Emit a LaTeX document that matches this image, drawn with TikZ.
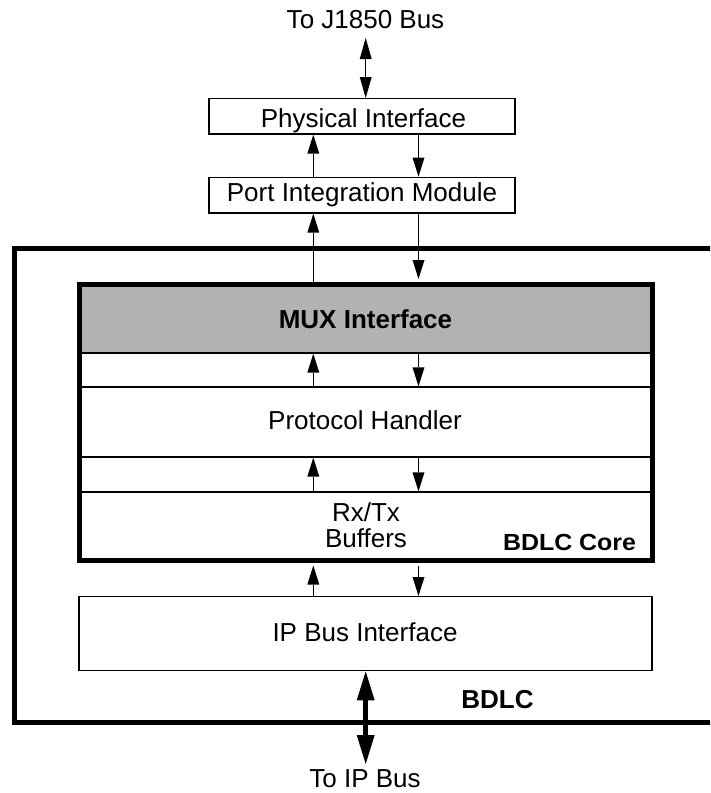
\documentclass[tikz,border=0pt]{standalone}
\usepackage{fontspec}
\usepackage{graphicx}
\setmainfont{Liberation Sans}
\usetikzlibrary{arrows.meta}
\definecolor{muxgray}{gray}{0.70}
\begin{document}
\begin{tikzpicture}[x=1pt,y=-1pt,
  txt/.style={inner sep=0pt, anchor=base, font=\fontsize{26}{24.3}\selectfont},
  btxt/.style={txt, font=\fontsize{26}{24.3}\selectfont\bfseries},
  box/.style={draw, line width=1.4pt, inner sep=0pt},
  band/.style={draw, line width=1.3pt, inner sep=0pt},
  corebox/.style={draw, line width=5pt, inner sep=0pt},
  arr/.style={line width=1.3pt, -{Triangle[length=19pt,width=12pt,line width=0pt]}},
  darr/.style={line width=1.3pt, {Triangle[length=21pt,width=12pt,line width=0pt]}-{Triangle[length=21pt,width=12pt,line width=0pt]}},
  bigarr/.style={line width=5pt, {Triangle[length=29pt,width=18pt,line width=0pt]}-{Triangle[length=29pt,width=18pt,line width=0pt]}}]
\clip (0,0) rectangle (710,793);

% outer BDLC box (right edge runs off the picture)
\node[corebox, minimum width=725.5pt, minimum height=473.5pt] (bdlc) at (377.25,485.25) {};

% top boxes
\node[box, minimum width=306pt, minimum height=35.3pt] (phy) at (362,116.35) {};
\node[box, minimum width=306pt, minimum height=35.7pt] (pim) at (362,195.15) {};

% core bands
\node[band, fill=muxgray, minimum width=572.5pt, minimum height=69pt] (mux) at (365.75,318.5) {};
\node[band, minimum width=572.5pt, minimum height=70pt] (ph) at (365.75,422) {};
\node[band, minimum width=572.5pt, minimum height=68.5pt] (rxb) at (365.75,526.25) {};
\node[corebox, minimum width=572.5pt, minimum height=276.5pt] (core) at (365.75,422.25) {};

% IP bus interface
\node[box, minimum width=573pt, minimum height=74pt] (ip) at (365.5,633.7) {};

% texts
\node[txt] (toj) at (365.5,28) {To J1850 Bus};
\node[txt] (phyt) at (363.5,127.3) {Physical Interface};
\node[txt] (pimt) at (362,201.7) {Port Integration Module};
\node[btxt] (muxt) at (365.5,328.3) {MUX Interface};
\node[txt] (pht) at (365,429) {Protocol Handler};
\node[txt] (rxt) at (366,521.7) {\begin{tabular}[t]{@{}c@{}}Rx/Tx\\Buffers\end{tabular}};
\node[txt, font=\fontsize{23.3}{24}\selectfont\bfseries] (coret) at (569.5,550) {\scalebox{1.07}[1]{BDLC Core}};
\node[txt] (ipt) at (365,641.7) {IP Bus Interface};
\node[btxt] (bdlct) at (497.5,708.3) {BDLC};
\node[txt] (toip) at (365,787.8) {To IP Bus};

% connector coordinates
\coordinate (ux) at (313.3,0);
\coordinate (dx) at (418.5,0);
\coordinate (jtop) at (365.7,38);
\coordinate (ipbot) at (365.7,764);

% connectors
\draw[darr] (jtop) -- (phy.north -| jtop);
\draw[arr] (pim.north -| ux) -- (phy.south -| ux);
\draw[arr] (phy.south -| dx) -- (pim.north -| dx);
\draw[arr] (core.north -| ux) -- (pim.south -| ux);
\draw[arr, shorten >=2.5pt] (pim.south -| dx) -- (core.north -| dx);
\draw[arr] (ph.north -| ux) -- (mux.south -| ux);
\draw[arr] (mux.south -| dx) -- (ph.north -| dx);
\draw[arr] (rxb.north -| ux) -- (ph.south -| ux);
\draw[arr] (ph.south -| dx) -- (rxb.north -| dx);
\draw[arr, shorten >=2.5pt] (ip.north -| ux) -- (core.south -| ux);
\draw[arr, shorten <=2.5pt] (core.south -| dx) -- (ip.north -| dx);
\draw[bigarr] (ip.south -| ipbot) -- (ipbot);
\end{tikzpicture}
\end{document}
